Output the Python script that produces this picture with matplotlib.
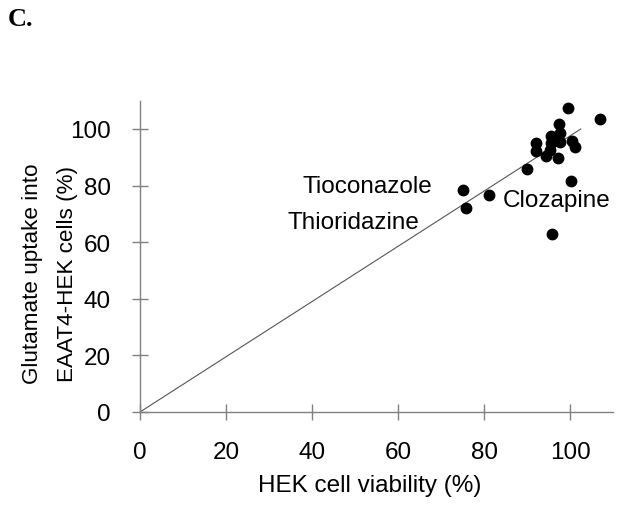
import matplotlib
matplotlib.use("Agg")
import matplotlib.pyplot as plt

# HEK cell viability (%) vs glutamate uptake (%)
viability = [99.6, 107.0, 97.5, 97.7, 95.5, 92.1, 95.5, 97.7, 100.4, 101.2,
             92.1, 95.3, 94.4, 97.3, 90.1, 100.2, 75.2, 81.2, 75.7, 95.9]
uptake = [107.5, 103.4, 101.6, 98.7, 97.6, 95.2, 94.9, 95.3, 95.9, 93.8,
          92.1, 92.6, 90.3, 89.9, 85.9, 81.8, 78.3, 76.8, 72.2, 63.0]

fit_x = [0, 102.5]
fit_y = [0, 100]

labels = ["Tioconazole", "Thioridazine", "Clozapine"]
label_x = [37.7, 34.4, 84.4]
label_y = [80.0, 67.0, 75.0]

ticks = [0, 20, 40, 60, 80, 100]

plt.rcParams["font.family"] = ["Liberation Sans", "DejaVu Sans"]
fs = 17.5

fig = plt.figure(figsize=(6.34, 5.10), dpi=100)
ax = fig.add_axes([140 / 634, 1 - 413 / 510, 473 / 634, (413 - 101.7) / 510])

ax.plot(fit_x, fit_y, color="#555555", lw=0.8, zorder=1)
ax.plot(viability, uptake, "o", color="black", ms=7.5, zorder=2)

for name, x, y in zip(labels, label_x, label_y):
    ax.text(x, y, name, fontsize=fs, ha="left", va="center")

ax.set_xlim(0, 110)
ax.set_ylim(0, 110)
ax.set_xticks(ticks)
ax.set_yticks(ticks)

for side in ["top", "right"]:
    ax.spines[side].set_visible(False)
for side in ["left", "bottom"]:
    ax.spines[side].set_color("#808080")
    ax.spines[side].set_linewidth(1.0)

ax.tick_params(axis="both", direction="inout", length=12, width=1.0,
               color="#808080", labelsize=fs, labelcolor="black")
ax.tick_params(axis="x", pad=15)
ax.tick_params(axis="y", pad=15)

ax.set_xlabel("HEK cell viability (%)", fontsize=fs)
ax.set_ylabel("Glutamate uptake into\nEAAT4-HEK cells (%)", fontsize=16.2,
              linespacing=1.85)
ax.xaxis.set_label_coords(0.486, -0.2)
ax.yaxis.set_label_coords(-0.131, 0.447)

fig.text(8 / 634, 1 - 20 / 510, "C.", fontsize=19, fontweight="bold",
         family="Liberation Serif", ha="left", va="center")

fig.savefig("out.png", dpi=100)
